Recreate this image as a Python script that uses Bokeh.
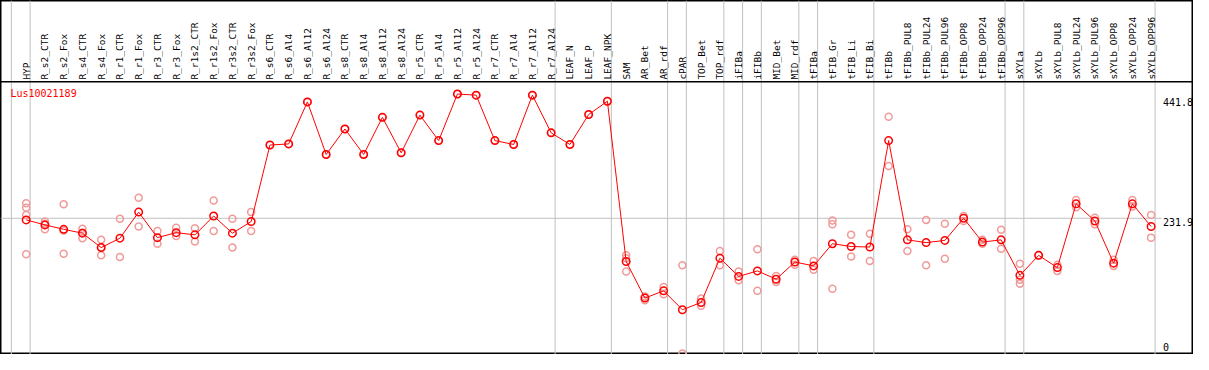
import numpy as np
from bokeh.plotting import figure
from bokeh.models import Range1d, Span, ColumnDataSource
from bokeh.embed import file_html
from bokeh.resources import INLINE
from bokeh.core.properties import value

gene = "Lus10021189"

categories = [
    "HYP", "R_s2_CTR", "R_s2_Fox", "R_s4_CTR", "R_s4_Fox", "R_r1_CTR", "R_r1_Fox",
    "R_r3_CTR", "R_r3_Fox", "R_r1s2_CTR", "R_r1s2_Fox", "R_r3s2_CTR", "R_r3s2_Fox",
    "R_s6_CTR", "R_s6_Al4", "R_s6_Al12", "R_s6_Al24", "R_s8_CTR", "R_s8_Al4",
    "R_s8_Al12", "R_s8_Al24", "R_r5_CTR", "R_r5_Al4", "R_r5_Al12", "R_r5_Al24",
    "R_r7_CTR", "R_r7_Al4", "R_r7_Al12", "R_r7_Al24", "LEAF_N", "LEAF_P", "LEAF_NPK",
    "SAM", "AR_Bet", "AR_rdf", "cPAR", "TOP_Bet", "TOP_rdf", "iFIBa", "iFIBb",
    "MID_Bet", "MID_rdf", "tFIBa", "tFIB_Gr", "tFIB_Li", "tFIB_Bi", "tFIBb",
    "tFIBb_PUL8", "tFIBb_PUL24", "tFIBb_PUL96", "tFIBb_OPP8", "tFIBb_OPP24",
    "tFIBb_OPP96", "sXYLa", "sXYLb", "sXYLb_PUL8", "sXYLb_PUL24", "sXYLb_PUL96",
    "sXYLb_OPP8", "sXYLb_OPP24", "sXYLb_OPP96",
]

means = [
    229, 220, 212, 205, 179, 196, 243, 197, 206, 202, 236, 205, 226,
    364, 366, 441.8, 347, 393, 347, 414, 350, 418, 372, 456, 454, 372, 365, 454, 386,
    365, 419, 443,
    154, 88, 101, 67, 80, 160, 127, 137, 122, 153, 146, 186, 181, 180,
    372, 193, 188, 192, 232, 189, 193,
    129, 165, 143, 258, 227, 151, 258, 217,
]

replicates = [
    [259, 251, 238, 167], [226, 212, 222], [257, 210, 168], [213, 196, 206],
    [193, 165, 179], [231, 162], [269, 217], [209, 186], [215, 200], [214, 190],
    [264, 209], [231, 179], [243, 209],
    [364], [366], [441.8], [347], [393], [347], [414], [350], [418], [372], [456],
    [454], [372], [365], [454], [386], [365], [419], [443],
    [165, 160, 136], [91, 84], [108, 95], [147, -12], [87, 74], [173, 147],
    [136, 120], [176, 101], [128, 117], [157, 148], [155, 139], [228, 221, 105],
    [202, 163], [204, 155],
    [415, 326], [212, 173], [229, 147], [222, 159], [236, 227], [193, 186], [211, 177],
    [150, 121, 114], [165], [148, 137], [265, 252], [233, 221], [157, 146],
    [265, 253], [238, 197],
]

# indices of the last category of each group (-1 = left edge)
group_ends = [-1, 0, 28, 31, 34, 35, 37, 38, 39, 41, 42, 45, 52, 53, 60]

tick_values = [441.8, 231.9, 0]
tick_labels = ["441.8", "231.9", "0"]
mid_line = 231.9

W, H = 1193, 354
Y_MIN, Y_MAX = -13.8, 624.7
HEADER = 478.0
X_MIN, X_MAX = -1.37, 62.26

p = figure(width=W, height=H, output_backend="svg", toolbar_location=None,
           x_range=Range1d(X_MIN, X_MAX), y_range=Range1d(Y_MIN, Y_MAX),
           x_axis_location=None, y_axis_location=None, min_border=0,
           outline_line_color="black", outline_line_width=2)
p.xgrid.visible = False
p.ygrid.visible = False
p.background_fill_color = "white"
p.border_fill_color = "white"

# vertical group separators
sep_x = [g + 0.21 for g in group_ends]
p.segment(x0=sep_x, x1=sep_x, y0=[Y_MIN] * len(sep_x), y1=[Y_MAX] * len(sep_x),
          line_color="#c0c0c0", line_width=1)

# horizontal mid line
p.segment(x0=[X_MIN], x1=[60.55], y0=[mid_line], y1=[mid_line],
          line_color="#c0c0c0", line_width=1)

# header separator
p.add_layout(Span(location=HEADER, dimension="width", line_color="black", line_width=1.5))

xs = list(range(len(categories)))

# category labels (rotated)
p.text(x=xs, y=[HEADER + 4] * len(xs), text=categories, angle=np.pi / 2,
       text_align="left", text_baseline="middle", text_font=value("DejaVu Sans Mono"),
       text_font_size="9.5px", text_color="black")

# replicates
rx, ry = [], []
for i, reps in enumerate(replicates):
    for r in reps:
        rx.append(i)
        ry.append(r)
p.scatter(x=rx, y=ry, marker="circle", size=7, fill_color=None,
          line_color="#f09a9a", line_width=1.5)

# mean line + points
p.line(x=xs, y=means, line_color="#ff0000", line_width=1)
p.scatter(x=xs, y=means, marker="circle", size=7.5, fill_color=None,
          line_color="#ff0000", line_width=1.5)

# gene label
p.text(x=[-0.84], y=[457], text=[gene], text_align="left", text_baseline="middle",
       text_font=value("DejaVu Sans Mono"), text_font_size="10px", text_color="#ff0000")

# right-hand value labels
p.text(x=[60.63] * 3, y=tick_values, text=tick_labels, text_align="left",
       text_baseline="middle", y_offset=[0, 4, 0],
       text_font=value("DejaVu Sans Mono"), text_font_size="10px", text_color="black")

open("out.html", "w").write(file_html(p, INLINE))
